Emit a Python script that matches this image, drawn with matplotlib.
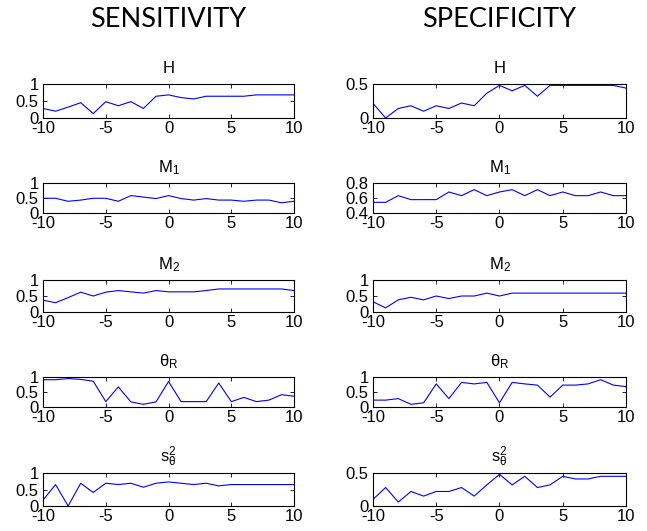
import matplotlib
matplotlib.use("Agg")
import matplotlib.pyplot as plt

plt.rcParams['font.family'] = ['Liberation Sans', 'DejaVu Sans']
plt.rcParams['mathtext.fontset'] = 'custom'
plt.rcParams['mathtext.rm'] = 'Liberation Sans'
plt.rcParams['mathtext.it'] = 'Liberation Sans'
plt.rcParams['axes.unicode_minus'] = False

# x 軸 (-10..10)
x = list(range(-10, 11))

# 感度 (SENSITIVITY)
sens_H = [0.28, 0.20, 0.32, 0.45, 0.13, 0.48, 0.36, 0.48, 0.28, 0.64, 0.68,
          0.60, 0.56, 0.64, 0.64, 0.64, 0.64, 0.68, 0.68, 0.68, 0.68]
sens_M1 = [0.49, 0.49, 0.39, 0.43, 0.49, 0.49, 0.39, 0.58, 0.53, 0.48, 0.58,
           0.48, 0.43, 0.48, 0.43, 0.43, 0.39, 0.43, 0.43, 0.34, 0.39]
sens_M2 = [0.37, 0.29, 0.45, 0.62, 0.50, 0.62, 0.67, 0.63, 0.59, 0.67, 0.63,
           0.63, 0.63, 0.67, 0.72, 0.72, 0.72, 0.72, 0.72, 0.72, 0.67]
sens_thR = [0.91, 0.91, 0.95, 0.92, 0.86, 0.18, 0.67, 0.17, 0.09, 0.17, 0.85,
            0.18, 0.18, 0.18, 0.80, 0.18, 0.32, 0.18, 0.23, 0.41, 0.36]
sens_s2 = [0.18, 0.65, 0.00, 0.69, 0.41, 0.69, 0.65, 0.69, 0.57, 0.69, 0.73,
           0.69, 0.65, 0.69, 0.61, 0.65, 0.65, 0.65, 0.65, 0.65, 0.65]

# 特異度 (SPECIFICITY)
spec_H = [0.215, 0.00, 0.14, 0.18, 0.10, 0.18, 0.14, 0.22, 0.18, 0.365, 0.48,
          0.40, 0.48, 0.32, 0.48, 0.48, 0.48, 0.48, 0.48, 0.48, 0.44]
spec_M1 = [0.542, 0.542, 0.631, 0.578, 0.578, 0.578, 0.68, 0.631, 0.711, 0.631, 0.68,
           0.711, 0.631, 0.711, 0.631, 0.68, 0.631, 0.631, 0.68, 0.631, 0.631]
spec_M2 = [0.32, 0.13, 0.38, 0.46, 0.38, 0.50, 0.42, 0.50, 0.50, 0.59, 0.50,
           0.59, 0.59, 0.59, 0.59, 0.59, 0.59, 0.59, 0.59, 0.59, 0.59]
spec_thR = [0.23, 0.23, 0.28, 0.09, 0.14, 0.77, 0.28, 0.82, 0.77, 0.82, 0.14,
            0.82, 0.77, 0.73, 0.33, 0.73, 0.73, 0.77, 0.91, 0.73, 0.68]
spec_s2 = [0.10, 0.28, 0.06, 0.22, 0.15, 0.22, 0.22, 0.28, 0.15, 0.32, 0.48,
           0.32, 0.45, 0.28, 0.32, 0.45, 0.41, 0.41, 0.45, 0.45, 0.45]

titles = ['H', r'$\mathrm{M_1}$', r'$\mathrm{M_2}$', r'$\theta_\mathrm{R}$', r'$\mathrm{s^2_\theta}$']
sens = [sens_H, sens_M1, sens_M2, sens_thR, sens_s2]
spec = [spec_H, spec_M1, spec_M2, spec_thR, spec_s2]
sens_ylim = [(0, 1), (0, 1), (0, 1), (0, 1), (0, 1)]
spec_ylim = [(0, 0.5), (0.4, 0.8), (0, 1), (0, 1), (0, 0.5)]
sens_yticks = [[0, 0.5, 1]] * 5
spec_yticks = [[0, 0.5], [0.4, 0.6, 0.8], [0, 0.5, 1], [0, 0.5, 1], [0, 0.5]]

# 各段の位置 (下端, 高さ)
rows = [(0.7778, 0.064), (0.5989, 0.0565), (0.4124, 0.0603), (0.2335, 0.0565), (0.0471, 0.0621)]
cols = [(0.0665, 0.388), (0.5765, 0.391)]

fig = plt.figure(figsize=(6.47, 5.31), dpi=100)


def draw(ax, y, ylim, yticks, title):
    ax.plot(x, y, color='#0000ff', linewidth=0.8)
    ax.set_xlim(-10, 10)
    ax.set_ylim(*ylim)
    ax.set_xticks([-10, -5, 0, 5, 10])
    ax.set_yticks(yticks)
    ax.set_yticklabels(['{:g}'.format(v) for v in yticks])
    ax.tick_params(direction='in', top=True, right=True, length=3, width=0.6,
                   labelsize=12)
    ax.tick_params(axis='x', pad=2.5)
    ax.tick_params(axis='y', pad=3)
    for s in ax.spines.values():
        s.set_linewidth(0.8)
    ax.set_title(title, fontsize=12, pad=8)


for r in range(5):
    ax = fig.add_axes([cols[0][0], rows[r][0], cols[0][1], rows[r][1]])
    draw(ax, sens[r], sens_ylim[r], sens_yticks[r], titles[r])
    ax = fig.add_axes([cols[1][0], rows[r][0], cols[1][1], rows[r][1]])
    draw(ax, spec[r], spec_ylim[r], spec_yticks[r], titles[r])

fig.text(cols[0][0] + cols[0][1] / 2, 0.963, 'SENSITIVITY', ha='center', va='center',
         fontsize=19.5, family=['Lato', 'DejaVu Sans'])
fig.text(cols[1][0] + cols[1][1] / 2, 0.963, 'SPECIFICITY', ha='center', va='center',
         fontsize=19.5, family=['Lato', 'DejaVu Sans'])

plt.savefig('out.png', dpi=100)
